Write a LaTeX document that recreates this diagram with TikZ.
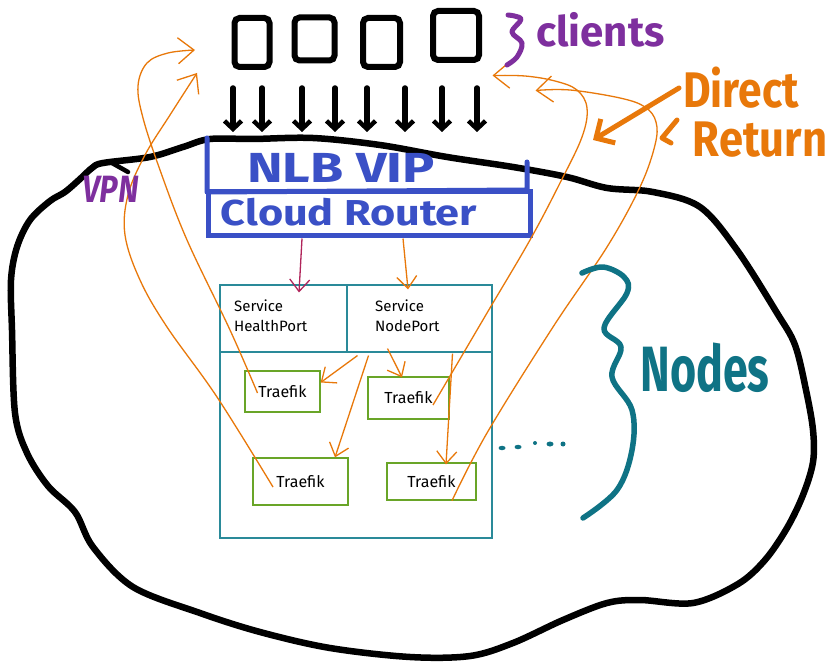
\documentclass[tikz,border=0pt]{standalone}
\usepackage{fontspec}
\setmainfont{Fira Sans}
\usetikzlibrary{arrows.meta}
\definecolor{cblue}{HTML}{3A50C6}
\definecolor{corange}{HTML}{E8780A}
\definecolor{cpurple}{HTML}{7E2F9E}
\definecolor{cteal}{HTML}{0F7385}
\definecolor{cbox}{HTML}{2A8A99}
\definecolor{cgreen}{HTML}{69A528}
\definecolor{ccrim}{HTML}{B0245A}
\begin{document}
\begin{tikzpicture}[x=1pt,y=-1pt,
  cloudline/.style={line width=6.5pt, line join=round, line cap=round},
  client/.style={draw, line width=6pt, rounded corners=5pt, inner sep=0pt},
  barrow/.style={line width=5.5pt, line cap=round, -{Straight Barb[length=8pt,width=17pt,line width=4.5pt]}},
  blueline/.style={draw=cblue, line width=5pt, line cap=round, line join=round},
  bluetext/.style={text=cblue, inner sep=0pt},
  svcbox/.style={draw=cbox, line width=1.1pt, inner sep=0pt},
  svctext/.style={anchor=west, align=left, inner sep=0pt, font=\fontsize{15}{20}\selectfont},
  tbox/.style={draw=cgreen, line width=1.3pt, inner sep=0pt, font=\fontsize{16}{18}\selectfont},
  oarr/.style={draw=corange, line width=1.3pt, -{Straight Barb[length=12pt,width=20pt]}},
  carr/.style={draw=ccrim, line width=1.3pt, -{Straight Barb[length=12pt,width=20pt]}},
  rarr/.style={draw=corange, line width=1.3pt, -{Straight Barb[length=16pt,width=26pt]}},
  bigorange/.style={draw=corange, line width=5pt, line cap=round, -{Straight Barb[length=14pt,width=28pt,line width=5pt]}},
]
\fill[white] (0,0) rectangle (837,668);
\useasboundingbox (0,0) rectangle (837,668);

% cloud outline
\draw[cloudline, fill=white] plot[smooth cycle, tension=0.55] coordinates {
 (103,163) (150,157) (183,147) (210,139) (253,139) (313,138) (380,145) (447,157)
 (513,167) (567,177) (607,188) (653,192) (700,207) (737,250) (777,313) (795,345)
 (806,390) (813,430) (813,462) (803,495) (787,528) (765,560) (738,584) (693,603)
 (640,600) (607,603) (563,620) (513,643) (470,656) (410,657) (330,648) (260,632)
 (200,613) (133,587) (93,547) (75,512) (48,486) (27,453) (15,413) (12,330)
 (11,280) (17,247) (30,220) (50,201) (65,192) (80,179) (92,168)};
\draw[line width=4.5pt, line cap=round] (112,163) -- (128,172);

% clients
\node[client, minimum width=35pt, minimum height=49pt] (c1) at (252,42.5) {};
\node[client, minimum width=40pt, minimum height=43pt] (c2) at (314.5,39) {};
\node[client, minimum width=37pt, minimum height=49pt] (c3) at (381.5,42.5) {};
\node[client, minimum width=46pt, minimum height=49pt] (c4) at (456,35.5) {};

% downward arrows
\foreach \i/\xx in {1/233,2/262,3/302,4/335,5/367,6/405,7/442,8/477}{
  \coordinate (as\i) at (\xx,88);
  \coordinate (ae\i) at (\xx,132);
  \draw[barrow] (as\i) -- (ae\i);
}

% NLB VIP / Cloud Router
\draw[blueline] (207,138) -- (207,192) -- (527,190) -- (527,162);
\node[draw=cblue, line width=5pt, minimum width=322pt, minimum height=44pt, inner sep=0pt] (router) at (369,214) {};
\node[bluetext, font=\fontsize{42}{42}\bfseries, xscale=1.28] (nlbtxt) at (341,168) {NLB VIP};
\node[bluetext, font=\fontsize{36}{36}\bfseries, xscale=1.2] (routertxt) at (349,212) {Cloud Router};

% services container
\node[svcbox, minimum width=272pt, minimum height=253pt] (svc) at (356,411.5) {};
\node[svcbox, minimum width=127pt, minimum height=67pt] (hp) at (283.5,318.5) {};
\node[svcbox, minimum width=145pt, minimum height=67pt] (np) at (419.5,318.5) {};
\node[svctext] (hptxt) at (234,316) {Service\\HealthPort};
\node[svctext] (nptxt) at (375,316) {Service\\NodePort};

% traefik boxes
\node[tbox, minimum width=75pt, minimum height=41pt] (t1) at (282.5,391.5) {Traefik};
\node[tbox, minimum width=81pt, minimum height=42pt] (t2) at (408.5,398) {Traefik};
\node[tbox, minimum width=95pt, minimum height=47pt] (t3) at (300.5,481.5) {Traefik};
\node[tbox, minimum width=89pt, minimum height=37pt] (t4) at (431.5,481.5) {Traefik};

% router to services
\draw[carr] ([xshift=-67pt]router.south) -- ([xshift=15.5pt,yshift=-8pt]hp.north);
\draw[oarr] ([xshift=34pt]router.south) -- ([xshift=-11.5pt,yshift=-5pt]np.north);

% nodeport to traefik
\draw[oarr] ([xshift=-62pt,yshift=-3pt]np.south) -- ([yshift=9pt]t1.east);
\draw[oarr] ([xshift=-51pt,yshift=-3pt]np.south) -- ([xshift=34.5pt]t3.north);
\draw[oarr] ([xshift=-32pt,yshift=4pt]np.south) -- ([xshift=-6.5pt,yshift=-1pt]t2.north);
\draw[oarr] ([xshift=33pt,yshift=-1pt]np.south) -- ([xshift=14.5pt,yshift=-2pt]t4.north);

% direct return curves
\draw[rarr] plot[smooth, tension=0.6] coordinates {([xshift=-25pt,yshift=-1.5pt]t1.center) (230,330) (187,240) (160,170) (143,118) (138,86) (147,63) (168,53) ([xshift=-36.5pt,yshift=-7.5pt]c1.west)};
\draw[rarr] plot[smooth, tension=0.6] coordinates {([xshift=-27.5pt,yshift=-5.5pt]t3.center) (217,397) (167,327) (140,280) (125,235) (128,195) (145,155) (170,115) ([xshift=-34.5pt,yshift=-30.5pt]c1.west)};
\draw[rarr] plot[smooth, tension=0.6] coordinates {([xshift=24.5pt,yshift=-7pt]t2.center) (487,313) (530,240) (560,183) (582,137) (587,108) (577,90) (555,81) (525,76) ([xshift=10.5pt,yshift=-12.5pt]c4.south east)};
\draw[rarr] plot[smooth, tension=0.6] coordinates {([xshift=20.5pt]t4.south) (487,433) (553,327) (607,247) (640,187) (655,145) (656,122) (645,107) (620,98) (570,90) ([xshift=53.5pt,yshift=-27.5pt]c4.south east)};

% labels
\draw[cpurple, line width=5pt, line cap=round, line join=round] plot[smooth, tension=0.6] coordinates {(508,15) (521,19) (512,32) (522,43) (517,57) (507,65)};
\node[text=cpurple, font=\fontsize{42}{42}\bfseries, inner sep=0pt, anchor=west] (clients) at (536,30) {clients};
\node[text=cpurple, font=\fontsize{38}{38}\bfseries, inner sep=0pt, xscale=0.8, xslant=0.15] (vpn) at (111,189) {VPN};

\node[text=corange, font=\fontsize{50}{50}\bfseries, inner sep=0pt, xscale=0.85] (direct) at (741,88) {Direct};
\node[text=corange, font=\fontsize{50}{50}\bfseries, inner sep=0pt, xscale=0.87] (return) at (760,140) {Return};
\coordinate (dtip) at (593,140);
\draw[bigorange] ([xshift=-4pt]direct.west) -- (dtip);
\draw[corange, line width=5pt, line cap=round, line join=round] (677,120) -- (662,138) -- (671,143);

\draw[cteal, line width=5.5pt, line cap=round, line join=round] plot[smooth, tension=0.6] coordinates {(582,273) (603,267) (624,277) (627,293) (604,328) (621,347) (612,377) (632,410) (632,450) (617,490) (583,518)};
\node[text=cteal, font=\fontsize{64}{64}\bfseries, inner sep=0pt, xscale=0.7] (nodes) at (705,368) {Nodes};
\foreach \dx/\dy/\rx/\ry in {502/448/3.5/2.2, 518/447/3.5/2.2, 535/443/2/2, 550/444/3.5/2.5, 563/444/2.5/2.5}{
  \fill[cteal] (\dx,\dy) ellipse ({\rx} and {\ry});
}
\end{tikzpicture}
\end{document}
